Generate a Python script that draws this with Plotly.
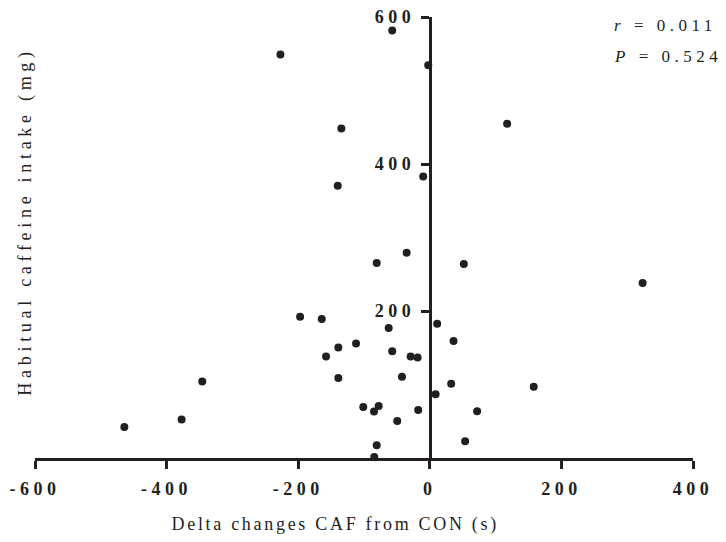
import plotly.graph_objects as go

# Data
delta_caf_con = [-464.2, -377.2, -345.8, -227.0, -197.1, -164.2, -157.7, -139.0, -139.0,
                 -134.4, -139.9, -112.1, -101.1, -84.8, -84.4, -80.7, -80.7, -77.7, -62.5,
                 -57.1, -57.1, -49.5, -42.3, -35.2, -29.1, -18.5, -17.6, -10.0, -2.4,
                 8.8, 11.2, 32.5, 36.1, 51.7, 53.7, 71.9, 117.5, 158.0, 323.4]
caffeine_mg = [42.3, 52.3, 104.1, 548.9, 192.2, 189.0, 138.2, 150.5, 109.0,
               448.4, 370.3, 155.9, 69.5, 63.2, 1.4, 17.3, 265.4, 70.9, 176.8,
               145.4, 581.6, 50.4, 110.4, 279.4, 138.2, 136.8, 65.4, 383.0, 534.3,
               86.8, 182.6, 100.9, 159.1, 264.0, 22.8, 63.7, 454.8, 96.8, 238.1]

x_tick_vals = [-600, -400, -200, 0, 200, 400]
x_tick_text = ["-600", "-400", "-200", "0", "200", "400"]
y_tick_vals = [200, 400, 600]
y_tick_text = ["200", "400", "600"]

r_text = "<i>r</i> = 0.011"
p_text = "<i>P</i> = 0.524"
x_title = "Delta changes CAF from CON (s)"
y_title = "Habitual caffeine intake (mg)"

INK = "#231f20"
FONT = "Liberation Serif"

W, H = 726, 542
ML, MR, MT, MB = 34.5, 32.5, 17.3, 84.3
PW, PH = W - ML - MR, H - MT - MB


def px(xp):
    return (xp - ML) / PW


def py(yp):
    return (H - MB - yp) / PH


fig = go.Figure()
fig.add_trace(go.Scatter(
    x=delta_caf_con, y=caffeine_mg, mode="markers",
    marker=dict(size=8, color=INK, line=dict(width=0)),
    cliponaxis=False, showlegend=False, hoverinfo="skip",
))

fig.update_layout(
    width=W, height=H,
    margin=dict(l=ML, r=MR, t=MT, b=MB, pad=0, autoexpand=False),
    paper_bgcolor="white", plot_bgcolor="white",
    font=dict(family=FONT, color=INK),
    xaxis=dict(
        range=[-600, 400], showgrid=False, zeroline=False, automargin=False,
        showline=True, linecolor=INK, linewidth=3,
        ticks="outside", ticklen=8, tickwidth=3, tickcolor=INK,
        tickvals=x_tick_vals, ticktext=x_tick_text,
        tickfont=dict(family=FONT, size=18, color=INK, weight="bold"),
        ticklabelstandoff=4,
    ),
    yaxis=dict(
        range=[0, 600], showgrid=False, zeroline=False, automargin=False,
        anchor="free", position=0.6,
        showline=True, linecolor=INK, linewidth=3,
        ticks="outside", ticklen=8, tickwidth=3, tickcolor=INK,
        tickvals=y_tick_vals, ticktext=y_tick_text,
        tickfont=dict(family=FONT, size=18, color=INK, weight="bold"),
        ticklabelstandoff=2,
    ),
    annotations=[
        dict(text=r_text, xref="paper", yref="paper", x=px(612), y=py(26),
             xanchor="left", yanchor="middle", align="left", showarrow=False,
             font=dict(family=FONT, size=17, color=INK)),
        dict(text=p_text, xref="paper", yref="paper", x=px(612), y=py(57),
             xanchor="left", yanchor="middle", align="left", showarrow=False,
             font=dict(family=FONT, size=17, color=INK)),
        dict(text=x_title, xref="paper", yref="paper", x=px(335), y=py(524),
             xanchor="center", yanchor="middle", showarrow=False,
             font=dict(family=FONT, size=18, color=INK)),
        dict(text=y_title, xref="paper", yref="paper", x=px(25), y=py(222),
             xanchor="center", yanchor="middle", showarrow=False, textangle=-90,
             font=dict(family=FONT, size=18, color=INK)),
    ],
)

css = ("body{margin:0;} "
       ".xtick text, .ytick text {letter-spacing:4.5px;} "
       ".annotation[data-index='0'] text, .annotation[data-index='1'] text {letter-spacing:4.5px;} "
       ".annotation[data-index='2'] text {letter-spacing:2.7px;} "
       ".annotation[data-index='3'] text {letter-spacing:4.7px;}")
post = "var s=document.createElement('style');s.innerHTML=\"" + css + "\";document.head.appendChild(s);"

fig.write_html("out.html", post_script=post, config={"displayModeBar": False})
